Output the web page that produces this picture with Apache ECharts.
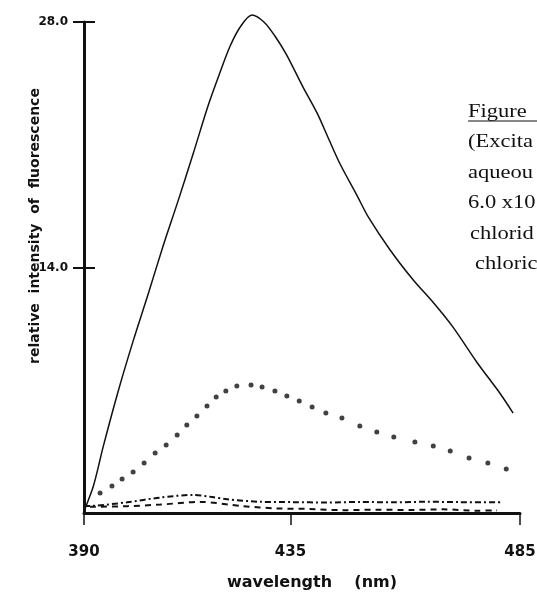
<!DOCTYPE html>
<html>
<head>
<meta charset="utf-8">
<script src="https://cdn.jsdelivr.net/npm/echarts@6/dist/echarts.min.js"></script>
<style>
  html, body { margin: 0; padding: 0; background: #fff; }
  #chart { width: 537px; height: 593px; }
</style>
</head>
<body>
<div id="chart"></div>
<script>
// values: wavelength (nm) and relative intensity
const solidWl = [390, 390.9, 392, 393.1, 394.1, 397.4, 400.7, 404, 407.2, 410.5, 413.8, 417, 419.6, 421.8, 424, 426.6, 429.2, 431.6, 434.2, 437.7, 440.8, 443.2, 445.8, 449.5, 451.9, 456.7, 461.7, 466.1, 470.4, 475.6, 480.7, 483.5]
const solidVal = [0.1, 0.7, 1.5, 2.6, 3.7, 6.9, 9.8, 12.5, 15.2, 17.8, 20.5, 23.2, 25.1, 26.6, 27.7, 28.4, 28.0, 27.2, 26.1, 24.3, 22.8, 21.4, 19.9, 18.1, 16.9, 15.0, 13.3, 12.0, 10.6, 8.6, 6.8, 5.7]

const dotWl = [393.5, 396.1, 398.3, 400.7, 403.1, 405.5, 407.9, 410.3, 412.4, 414.6, 416.8, 418.8, 420.9, 423.3, 426.4, 428.8, 431.6, 434.2, 436.9, 439.7, 442.7, 446.2, 450.1, 453.8, 457.5, 462.1, 466.1, 469.8, 473.9, 478.0, 482.0]
const dotVal = [1.14, 1.54, 1.94, 2.34, 2.85, 3.42, 3.88, 4.45, 5.02, 5.53, 6.10, 6.61, 6.96, 7.24, 7.30, 7.18, 6.96, 6.67, 6.39, 6.04, 5.70, 5.42, 4.96, 4.62, 4.33, 4.05, 3.82, 3.53, 3.14, 2.85, 2.51]

const dashDotWl = [390, 392, 399.4, 406.6, 413.8, 417.5, 421.2, 428.4, 435.5, 443.0, 450.2, 457.3, 464.7, 471.9, 481.3]
const dashDotVal = [0.40, 0.41, 0.61, 0.88, 1.03, 0.93, 0.78, 0.64, 0.62, 0.60, 0.63, 0.61, 0.64, 0.62, 0.61]

const dashWl = [391.3, 399.4, 406.6, 415.3, 424.6, 432.0, 439.2, 446.4, 453.8, 461.0, 468.2, 475.6, 480.0]
const dashVal = [0.35, 0.39, 0.48, 0.63, 0.39, 0.26, 0.23, 0.16, 0.19, 0.17, 0.21, 0.13, 0.15]

const xTicks = [390, 435, 485]
const yTicks = [14, 28]
const captionLines = ['Figure', '(Excita', 'aqueou', '6.0 x10', 'chlorid', 'chloric']

function pairs(xs, ys) {
  return xs.map((x, i) => [x, ys[i]])
}

const ink = '#111'
const chart = echarts.init(document.getElementById('chart'))

const captionY = [112, 142.5, 173, 203.5, 234, 264.5]
const captionX = [468, 468, 468, 468, 470, 475]
const caption = captionLines.map((t, i) => ({
  type: 'text',
  x: captionX[i],
  y: captionY[i],
  scaleX: 1.25,
  style: {
    text: t,
    font: '18px "Liberation Serif", "Times New Roman", serif',
    fill: ink,
    textAlign: 'left',
    textVerticalAlign: 'middle'
  }
}))

chart.setOption({
  animation: false,
  backgroundColor: '#fff',
  grid: {left: 84, right: 17, top: 22, bottom: 80, outerBoundsMode: 'none'},
  xAxis: {
    type: 'value',
    min: 390,
    max: 485,
    name: 'wavelength    (nm)',
    nameLocation: 'middle',
    nameGap: 62,
    nameTextStyle: {
      fontFamily: 'DejaVu Sans',
      fontWeight: 'bold',
      fontSize: 16,
      color: ink,
      padding: [0, 0, 0, 20]
    },
    axisLine: {lineStyle: {color: ink, width: 3}},
    axisTick: {customValues: xTicks, length: 12, lineStyle: {color: ink, width: 1.5}},
    axisLabel: {
      customValues: xTicks,
      margin: 32,
      fontFamily: 'DejaVu Sans',
      fontWeight: 'bold',
      fontSize: 15,
      color: ink
    },
    splitLine: {show: false}
  },
  yAxis: [{
    type: 'value',
    position: 'left',
    min: 0,
    max: 28,
    axisLine: {lineStyle: {color: ink, width: 3}},
    axisTick: {customValues: yTicks, length: 11, lineStyle: {color: ink, width: 2}},
    axisLabel: {
      customValues: yTicks,
      margin: 16,
      formatter: v => v.toFixed(1),
      fontFamily: 'DejaVu Sans',
      fontWeight: 'bold',
      fontSize: 12,
      color: ink
    },
    splitLine: {show: false}
  }, {
    // same axis again, only to draw the tick half inside the plot
    type: 'value',
    position: 'left',
    offset: 0,
    min: 0,
    max: 28,
    axisLine: {show: false},
    axisTick: {inside: true, customValues: yTicks, length: 11, lineStyle: {color: ink, width: 2}},
    axisLabel: {show: false},
    splitLine: {show: false}
  }],
  graphic: [{
    type: 'text',
    x: 35,
    y: 226,
    rotation: Math.PI / 2,
    style: {
      text: 'relative  intensity  of  fluorescence',
      font: 'bold 14px "DejaVu Sans"',
      fill: ink,
      textAlign: 'center',
      textVerticalAlign: 'middle'
    }
  }, {
    type: 'line',
    shape: {x1: 468, y1: 121, x2: 537, y2: 121},
    style: {stroke: ink, lineWidth: 1}
  }].concat(caption),
  series: [{
    type: 'line',
    data: pairs(solidWl, solidVal),
    smooth: 0.3,
    showSymbol: false,
    clip: false,
    lineStyle: {color: ink, width: 1.5}
  }, {
    type: 'scatter',
    data: pairs(dotWl, dotVal),
    symbol: 'circle',
    symbolSize: 5,
    itemStyle: {color: ink}
  }, {
    type: 'line',
    data: pairs(dashDotWl, dashDotVal),
    smooth: 0.3,
    showSymbol: false,
    lineStyle: {color: ink, width: 2, type: [6, 3, 2, 3]}
  }, {
    type: 'line',
    data: pairs(dashWl, dashVal),
    smooth: 0.3,
    showSymbol: false,
    lineStyle: {color: ink, width: 2, type: [6, 5]}
  }]
})
</script>
</body>
</html>
